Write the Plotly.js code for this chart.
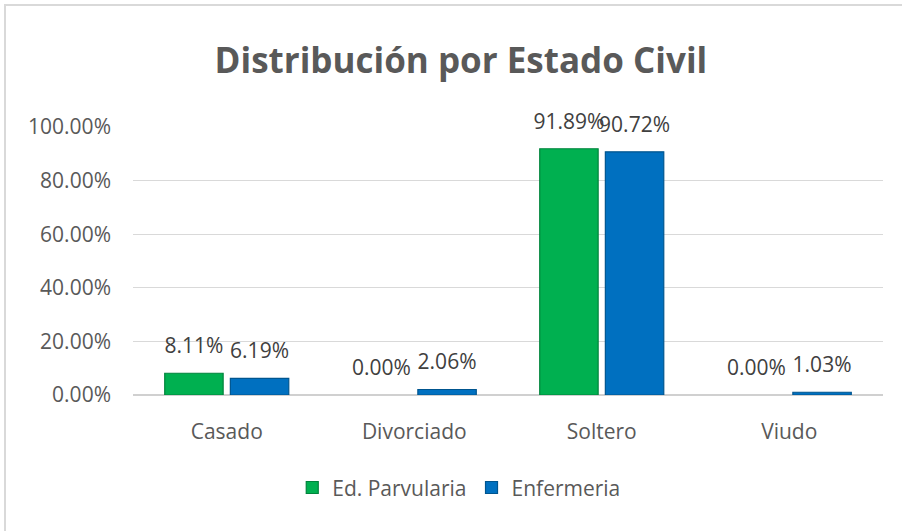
<!DOCTYPE html>
<html>
<head>
<meta charset="utf-8">
<script src="https://cdn.plot.ly/plotly-3.0.1.min.js"></script>
<style>
html,body{margin:0;padding:0;background:#fff;overflow:hidden;}
#frame{position:absolute;left:4px;top:4px;width:1000px;height:1000px;border:2px solid #d9d9d9;}
#chart{position:absolute;left:0;top:0;width:902px;height:531px;}
</style>
</head>
<body>
<div id="frame"></div>
<div id="chart"></div>
<script>
const categories = ["Casado", "Divorciado", "Soltero", "Viudo"];
const seriesNames = ["Ed. Parvularia", "Enfermeria"];
const edParvularia = [8.11, 0.00, 91.89, 0.00];
const enfermeria = [6.19, 2.06, 90.72, 1.03];
const yTicks = [0, 20, 40, 60, 80, 100];
const yTickLabels = ["0.00%", "20.00%", "40.00%", "60.00%", "80.00%", "100.00%"];

const FONT = "Open Sans, Noto Sans, sans-serif";
function bar(name, vals, fill, edge, grp) {
  return {
    type: "bar", name: name, x: categories, y: vals,
    offsetgroup: grp, alignmentgroup: "a",
    marker: {color: fill, line: {color: edge, width: vals.map(v => v > 0 ? 1.2 : 0)}},
    hoverinfo: "none"
  };
}
function labels(vals, grp) {
  return {
    type: "scatter", mode: "markers+text", x: categories, y: vals,
    offsetgroup: grp, alignmentgroup: "a",
    marker: {size: 22, opacity: 0},
    text: vals.map(v => v.toFixed(2) + "%"),
    textposition: "top center",
    textfont: {family: FONT, size: 21, color: "#404040"},
    cliponaxis: false, showlegend: false, hoverinfo: "none"
  };
}
const data = [
  bar(seriesNames[0], edParvularia, "#00b050", "#00843c", "g1"),
  bar(seriesNames[1], enfermeria, "#0070c0", "#00558f", "g2"),
  labels(edParvularia, "g1"),
  labels(enfermeria, "g2")
];
const layout = {
  width: 902, height: 531,
  paper_bgcolor: "rgba(0,0,0,0)", plot_bgcolor: "rgba(0,0,0,0)",
  margin: {l: 133, r: 19, t: 127, b: 136},
  title: {text: "<b>Distribución por Estado Civil</b>", x: 0.511, xanchor: "center", y: 0.885, yanchor: "middle",
          font: {family: FONT, size: 35, color: "#595959"}},
  barmode: "group", bargap: 0.3, bargroupgap: 0.11,
  scattermode: "group", scattergap: 0.3,
  xaxis: {tickfont: {family: FONT, size: 21, color: "#595959"}, showline: false, ticks: "", showgrid: false,
          ticklabelstandoff: 22},
  yaxis: {range: [0, 100], tickvals: yTicks, ticktext: yTickLabels, showgrid: true, gridcolor: "#d9d9d9", gridwidth: 1,
          zeroline: true, zerolinecolor: "#d0d0d0", zerolinewidth: 1.5,
          tickfont: {family: FONT, size: 21, color: "#595959"}, ticks: "", ticklabelstandoff: 21},
  showlegend: true,
  legend: {orientation: "h", x: 0.435, xanchor: "center", y: -0.27, yanchor: "top",
           font: {family: FONT, size: 21, color: "#595959"}, itemwidth: 30, traceorder: "normal"},
  font: {family: FONT}
};
Plotly.newPlot("chart", data, layout, {displayModeBar: false, staticPlot: true});
</script>
</body>
</html>
